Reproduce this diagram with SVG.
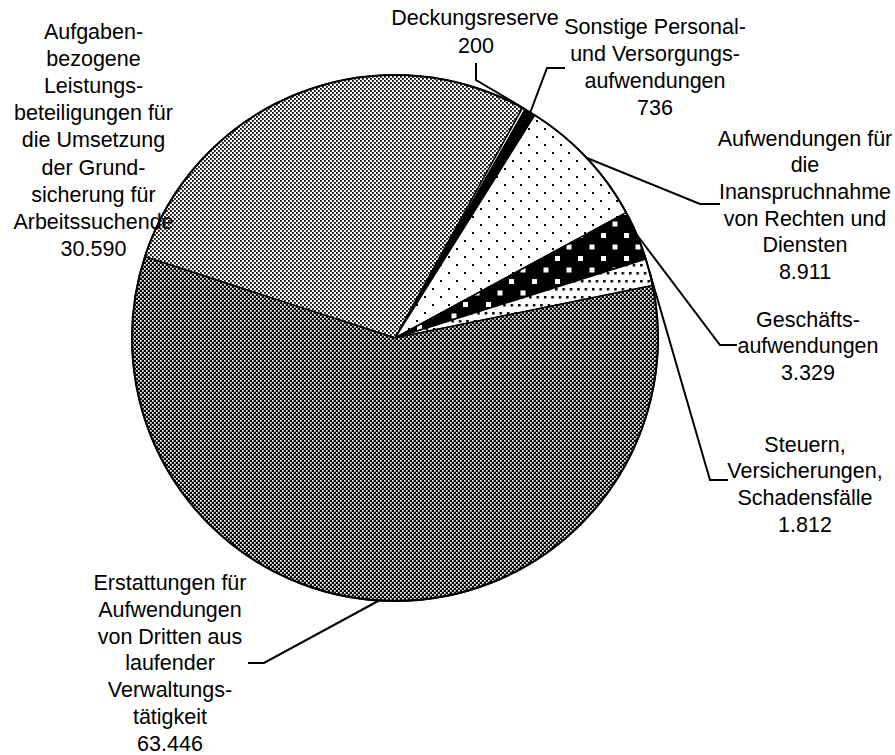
<svg xmlns="http://www.w3.org/2000/svg" width="895" height="755" viewBox="0 0 895 755">
<defs>
<pattern id="pLight" patternUnits="userSpaceOnUse" width="4" height="4">
<rect width="4" height="4" fill="#fff"/>
<rect x="0" y="0" width="1.8" height="1.8" fill="#000"/>
<rect x="2" y="2" width="1.8" height="1.8" fill="#000"/>
</pattern>
<pattern id="pDark" patternUnits="userSpaceOnUse" width="4" height="4">
<rect width="4" height="4" fill="#000"/>
<rect x="0" y="0" width="1.7" height="1.7" fill="#fff"/>
<rect x="2" y="2" width="1.7" height="1.7" fill="#fff"/>
</pattern>
<pattern id="pSparse" patternUnits="userSpaceOnUse" width="16" height="16">
<rect width="16" height="16" fill="#fff"/>
<rect x="0" y="0" width="2" height="2" fill="#000"/>
<rect x="8" y="8" width="2" height="2" fill="#000"/>
</pattern>
<pattern id="pSquares" patternUnits="userSpaceOnUse" width="23" height="23">
<rect width="23" height="23" fill="#000"/>
<rect x="3" y="3" width="5" height="5" fill="#fff"/>
<rect x="14.5" y="14.5" width="5" height="5" fill="#fff"/>
</pattern>
<pattern id="pDense" patternUnits="userSpaceOnUse" width="7.4" height="16">
<rect width="7.4" height="16" fill="#fff"/>
<rect x="0" y="0" width="2.5" height="2.5" fill="#000"/>
<rect x="3.7" y="8" width="2.5" height="2.5" fill="#000"/>
</pattern>
</defs>
<style>
.slice{stroke:#000;stroke-width:1.5;stroke-linejoin:round}
.lbl{font-family:"Liberation Sans",Arial,sans-serif;font-size:21.5px;fill:#000;text-anchor:middle}
.lead{fill:none;stroke:#000;stroke-width:2}
</style>
<rect width="895" height="755" fill="#fff"/>

<g id="aufgaben">
<path class="slice" fill="url(#pLight)" d="M395,338 L144.87,256.73 A263,263 0 0 1 522.50,107.98 Z"/>
</g>
<g id="deckungsreserve">
<path class="slice" fill="#fff" d="M395,338 L522.50,107.98 A263,263 0 0 1 525.15,109.45 Z"/>
</g>
<g id="sonstige">
<path class="slice" fill="#000" d="M395,338 L525.15,109.45 A263,263 0 0 1 534.72,115.18 Z"/>
</g>
<g id="inanspruchnahme">
<path class="slice" fill="url(#pSparse)" d="M395,338 L534.72,115.18 A263,263 0 0 1 626.17,212.59 Z"/>
</g>
<g id="geschaeft">
<path class="slice" fill="url(#pSquares)" d="M395,338 L626.17,212.59 A263,263 0 0 1 645.84,258.96 Z"/>
</g>
<g id="steuern">
<path class="slice" fill="url(#pDense)" d="M395,338 L645.84,258.96 A263,263 0 0 1 652.71,285.52 Z"/>
</g>
<g id="erstattungen">
<path class="slice" fill="url(#pDark)" d="M395,338 L652.71,285.52 A263,263 0 1 1 144.87,256.73 Z"/>
</g>
<circle cx="395" cy="338" r="263" fill="none" stroke="#000" stroke-width="2"/>

<g id="connectors">
<path class="lead" d="M476,63 L476,80 L525,109"/>
<path class="lead" d="M565,68 L547,68 L530,113"/>
<path class="lead" d="M587,158 L700,204 L720,204"/>
<path class="lead" d="M637,235 L720,345 L737,345"/>
<path class="lead" d="M649.6,272 L710,480 L728,480"/>
<path class="lead" d="M380,600 L264,663 L248,663"/>
</g>

<g id="label-aufgaben" class="lbl">
<text x="93.5" y="38.6">Aufgaben-</text>
<text x="93.5" y="65.8">bezogene</text>
<text x="93.5" y="93">Leistungs-</text>
<text x="93.5" y="120.2">beteiligungen für</text>
<text x="93.5" y="147.4">die Umsetzung</text>
<text x="93.5" y="174.6">der Grund-</text>
<text x="93.5" y="201.8">sicherung für</text>
<text x="93.5" y="229">Arbeitssuchende</text>
<text x="93.5" y="256.2">30.590</text>
</g>
<g id="label-deckungsreserve" class="lbl">
<text x="475" y="25">Deckungsreserve</text>
<text x="476" y="52.5">200</text>
</g>
<g id="label-sonstige" class="lbl">
<text x="655" y="34">Sonstige Personal-</text>
<text x="655" y="61">und Versorgungs-</text>
<text x="655" y="88">aufwendungen</text>
<text x="655" y="115">736</text>
</g>
<g id="label-inanspruchnahme" class="lbl">
<text x="805" y="145.5">Aufwendungen für</text>
<text x="805" y="172">die</text>
<text x="805" y="199">Inanspruchnahme</text>
<text x="805" y="225.7">von Rechten und</text>
<text x="805" y="252.4">Diensten</text>
<text x="805" y="279">8.911</text>
</g>
<g id="label-geschaeft" class="lbl">
<text x="808" y="326.5">Geschäfts-</text>
<text x="808" y="353">aufwendungen</text>
<text x="808" y="379.5">3.329</text>
</g>
<g id="label-steuern" class="lbl">
<text x="805" y="451.5">Steuern,</text>
<text x="805" y="478.3">Versicherungen,</text>
<text x="805" y="505">Schadensfälle</text>
<text x="805" y="531.7">1.812</text>
</g>
<g id="label-erstattungen" class="lbl">
<text x="170" y="590">Erstattungen für</text>
<text x="170" y="616.8">Aufwendungen</text>
<text x="170" y="643.6">von Dritten aus</text>
<text x="170" y="670.4">laufender</text>
<text x="170" y="697.2">Verwaltungs-</text>
<text x="170" y="724">tätigkeit</text>
<text x="170" y="750.8">63.446</text>
</g>
</svg>
